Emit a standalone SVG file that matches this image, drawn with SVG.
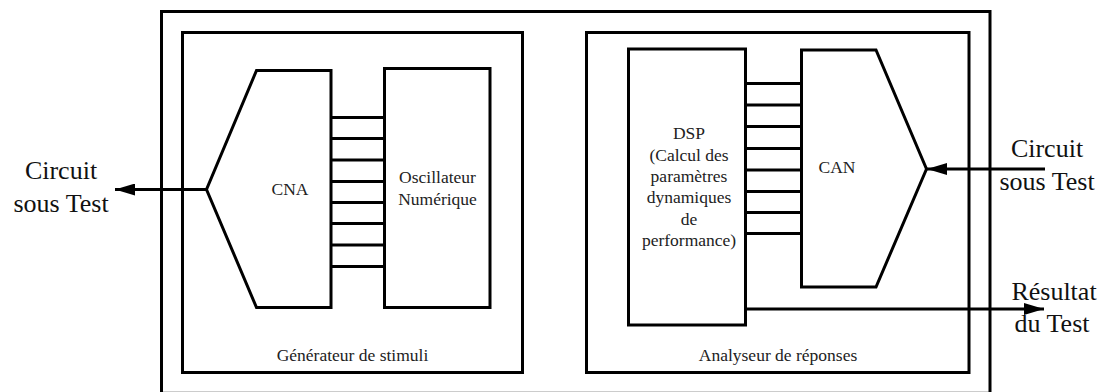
<svg xmlns="http://www.w3.org/2000/svg" width="1106" height="392" viewBox="0 0 1106 392">
<defs>
<style>
.box{fill:none;stroke:#000;stroke-width:3;stroke-linejoin:miter}
.bus{stroke:#000;stroke-width:3}
.wire{stroke:#000;stroke-width:3;fill:none}
.t{font-family:"Liberation Serif","Times New Roman",serif;font-size:17.5px;fill:#222;text-anchor:middle}
.big{font-family:"Liberation Serif","Times New Roman",serif;font-size:26px;fill:#111;text-anchor:middle}
</style>
<marker id="arr" viewBox="0 0 20 12" refX="20" refY="6" markerWidth="20" markerHeight="12" markerUnits="userSpaceOnUse" orient="auto">
<path d="M0,0 L20,6 L0,12 Z" fill="#000"/>
</marker>
</defs>
<rect width="1106" height="392" fill="#fff"/>
<g id="outer"><rect class="box" x="161.5" y="11.5" width="828.5" height="381.8"/></g>
<g id="generateur">
<rect class="box" x="182.5" y="32.5" width="340" height="340"/>
<text class="t" x="352.5" y="361">Générateur de stimuli</text>
</g>
<g id="cna">
<path class="box" d="M256.5,70.5 L331,70.5 L331,307.5 L256.5,307.5 L206.5,189.5 Z"/>
<text class="t" x="290" y="195">CNA</text>
</g>
<g id="oscillateur">
<rect class="box" x="384.5" y="68.5" width="105.5" height="239"/>
<text class="t" x="437.5" y="183">Oscillateur</text>
<text class="t" x="437.5" y="205">Numérique</text>
</g>
<g id="analyseur">
<rect class="box" x="586.5" y="32.5" width="382.5" height="340"/>
<text class="t" x="778" y="361">Analyseur de réponses</text>
</g>
<g id="dsp">
<rect class="box" x="628.5" y="49" width="117" height="276"/>
<text class="t" x="689" y="139">DSP</text>
<text class="t" x="689" y="160.5">(Calcul des</text>
<text class="t" x="689" y="182">paramètres</text>
<text class="t" x="689" y="203">dynamiques</text>
<text class="t" x="689" y="224.5">de</text>
<text class="t" x="689" y="246">performance)</text>
</g>
<g id="can">
<path class="box" d="M801.5,50 L876,50 L926.5,169 L876,287 L801.5,287 Z"/>
<text class="t" x="837" y="173">CAN</text>
</g>
<g id="connectors">
<g class="bus">
<line x1="331" y1="117.5" x2="384.5" y2="117.5"/>
<line x1="331" y1="138.5" x2="384.5" y2="138.5"/>
<line x1="331" y1="160" x2="384.5" y2="160"/>
<line x1="331" y1="181.5" x2="384.5" y2="181.5"/>
<line x1="331" y1="202.5" x2="384.5" y2="202.5"/>
<line x1="331" y1="223.5" x2="384.5" y2="223.5"/>
<line x1="331" y1="245" x2="384.5" y2="245"/>
<line x1="331" y1="266.5" x2="384.5" y2="266.5"/>
<line x1="745.5" y1="83.5" x2="801.5" y2="83.5"/>
<line x1="745.5" y1="105" x2="801.5" y2="105"/>
<line x1="745.5" y1="126.5" x2="801.5" y2="126.5"/>
<line x1="745.5" y1="148.5" x2="801.5" y2="148.5"/>
<line x1="745.5" y1="170" x2="801.5" y2="170"/>
<line x1="745.5" y1="191.5" x2="801.5" y2="191.5"/>
<line x1="745.5" y1="212.5" x2="801.5" y2="212.5"/>
<line x1="745.5" y1="233.5" x2="801.5" y2="233.5"/>
</g>
<line class="wire" x1="206.5" y1="189.5" x2="115" y2="189.5" marker-end="url(#arr)"/>
<line class="wire" x1="1045" y1="169" x2="927" y2="169" marker-end="url(#arr)"/>
<line class="wire" x1="745.5" y1="309" x2="1044" y2="309" marker-end="url(#arr)"/>
</g>
<g id="labels">
<text class="big" x="61" y="179">Circuit</text>
<text class="big" x="61" y="211.5">sous Test</text>
<text class="big" x="1047" y="157">Circuit</text>
<text class="big" x="1047" y="190">sous Test</text>
<text class="big" x="1054" y="300">Résultat</text>
<text class="big" x="1052" y="332">du Test</text>
</g>
</svg>
